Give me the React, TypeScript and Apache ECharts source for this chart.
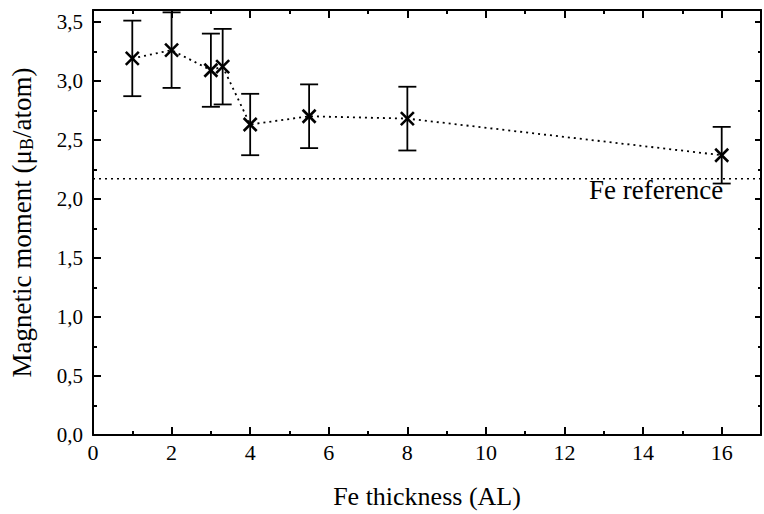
import React, { useEffect, useRef } from "react";
import * as echarts from "echarts";

const thickness = [1, 2, 3, 3.3, 4, 5.5, 8, 16];
const moment = [3.19, 3.26, 3.09, 3.12, 2.63, 2.7, 2.68, 2.37];
const errors = [0.32, 0.32, 0.31, 0.32, 0.26, 0.27, 0.27, 0.24];
const feReference = 2.17;
const feLabel = "Fe reference";
const xTitle = "Fe thickness (AL)";
const yTitle = "Magnetic moment (μ{sub|B}/atom)";

const FONT = "Times New Roman, Liberation Serif, DejaVu Serif, serif";
const fmt = (v: number) => v.toFixed(1).replace(".", ",");

export default function App() {
  const ref = useRef<HTMLDivElement>(null);
  useEffect(() => {
    if (!ref.current) return;
    const chart = echarts.init(ref.current, undefined, { renderer: "svg" });
    const axisLine = { show: true, onZero: false, lineStyle: { color: "#000", width: 2 } };
    const axisTick = { show: true, inside: true, length: 8, lineStyle: { color: "#000", width: 2 } };
    const minorTick = { show: true, splitNumber: 2, length: 4, lineStyle: { color: "#000", width: 2 } };
    chart.setOption({
      animation: false,
      backgroundColor: "#fff",
      textStyle: { fontFamily: FONT },
      grid: { left: 93, right: -1, top: 10, bottom: 77 },
      xAxis: [
        {
          type: "value",
          min: 0,
          max: 17,
          interval: 2,
          position: "bottom",
          axisLine,
          axisTick,
          minorTick,
          splitLine: { show: false },
          axisLabel: {
            color: "#000",
            fontFamily: FONT,
            fontSize: 22,
            margin: 6,
            formatter: (v: number) => (v % 2 === 0 ? String(v) : ""),
          },
          name: xTitle,
          nameLocation: "middle",
          nameGap: 48,
          nameTextStyle: { color: "#000", fontFamily: FONT, fontSize: 26 },
        },
        {
          type: "value",
          min: 0,
          max: 17,
          interval: 2,
          position: "top",
          axisLine,
          axisTick,
          minorTick,
          splitLine: { show: false },
          axisLabel: { show: false },
        },
      ],
      yAxis: [
        {
          type: "value",
          min: 0,
          max: 3.6,
          interval: 0.5,
          position: "left",
          axisLine,
          axisTick,
          minorTick,
          splitLine: { show: false },
          axisLabel: {
            color: "#000",
            fontFamily: FONT,
            fontSize: 21,
            margin: 10,
            formatter: (v: number) => (Math.abs(v * 2 - Math.round(v * 2)) < 1e-6 ? fmt(v) : ""),
          },
          name: yTitle,
          nameLocation: "middle",
          nameGap: 57,
          nameTextStyle: {
            color: "#000",
            fontFamily: FONT,
            fontSize: 27,
            rich: {
              sub: { fontFamily: FONT, fontSize: 18, padding: [10, 0, 0, 0], verticalAlign: "bottom", color: "#000" },
            },
          },
        },
        {
          type: "value",
          min: 0,
          max: 3.6,
          interval: 0.5,
          position: "right",
          axisLine,
          axisTick: { ...axisTick, length: 6 },
          minorTick: { ...minorTick, length: 3 },
          splitLine: { show: false },
          axisLabel: { show: false },
        },
      ],
      series: [
        {
          type: "line",
          data: [
            [0, feReference],
            [17, feReference],
          ],
          symbol: "none",
          lineStyle: { color: "#000", width: 1.5, type: [2, 4] },
          silent: true,
        },
        {
          type: "line",
          data: thickness.map((x, i) => [x, moment[i]]),
          symbol: "none",
          lineStyle: { color: "#000", width: 1.8, type: [2, 4] },
        },
        {
          type: "custom",
          data: thickness.map((x, i) => [x, moment[i], errors[i]]),
          renderItem: (params: any, api: any) => {
            const x = api.value(0);
            const y = api.value(1);
            const e = api.value(2);
            const c = api.coord([x, y]);
            const hi = api.coord([x, y + e]);
            const lo = api.coord([x, y - e]);
            const cap = 9;
            const m = 6.5;
            const style = { stroke: "#000", lineWidth: 1.8 };
            const xs = { stroke: "#000", lineWidth: 2.6 };
            return {
              type: "group",
              children: [
                { type: "line", shape: { x1: c[0], y1: hi[1], x2: c[0], y2: lo[1] }, style },
                { type: "line", shape: { x1: c[0] - cap, y1: hi[1], x2: c[0] + cap, y2: hi[1] }, style },
                { type: "line", shape: { x1: c[0] - cap, y1: lo[1], x2: c[0] + cap, y2: lo[1] }, style },
                { type: "line", shape: { x1: c[0] - m, y1: c[1] - m, x2: c[0] + m, y2: c[1] + m }, style: xs },
                { type: "line", shape: { x1: c[0] - m, y1: c[1] + m, x2: c[0] + m, y2: c[1] - m }, style: xs },
              ],
            };
          },
        },
      ],
      graphic: [
        {
          type: "text",
          left: 589,
          top: 176,
          style: { text: feLabel, fill: "#000", fontFamily: FONT, fontSize: 27 },
        },
      ],
    });
    return () => chart.dispose();
  }, []);
  return <div ref={ref} style={{ position: "absolute", left: 0, top: 0, width: 764, height: 514 }} />;
}
